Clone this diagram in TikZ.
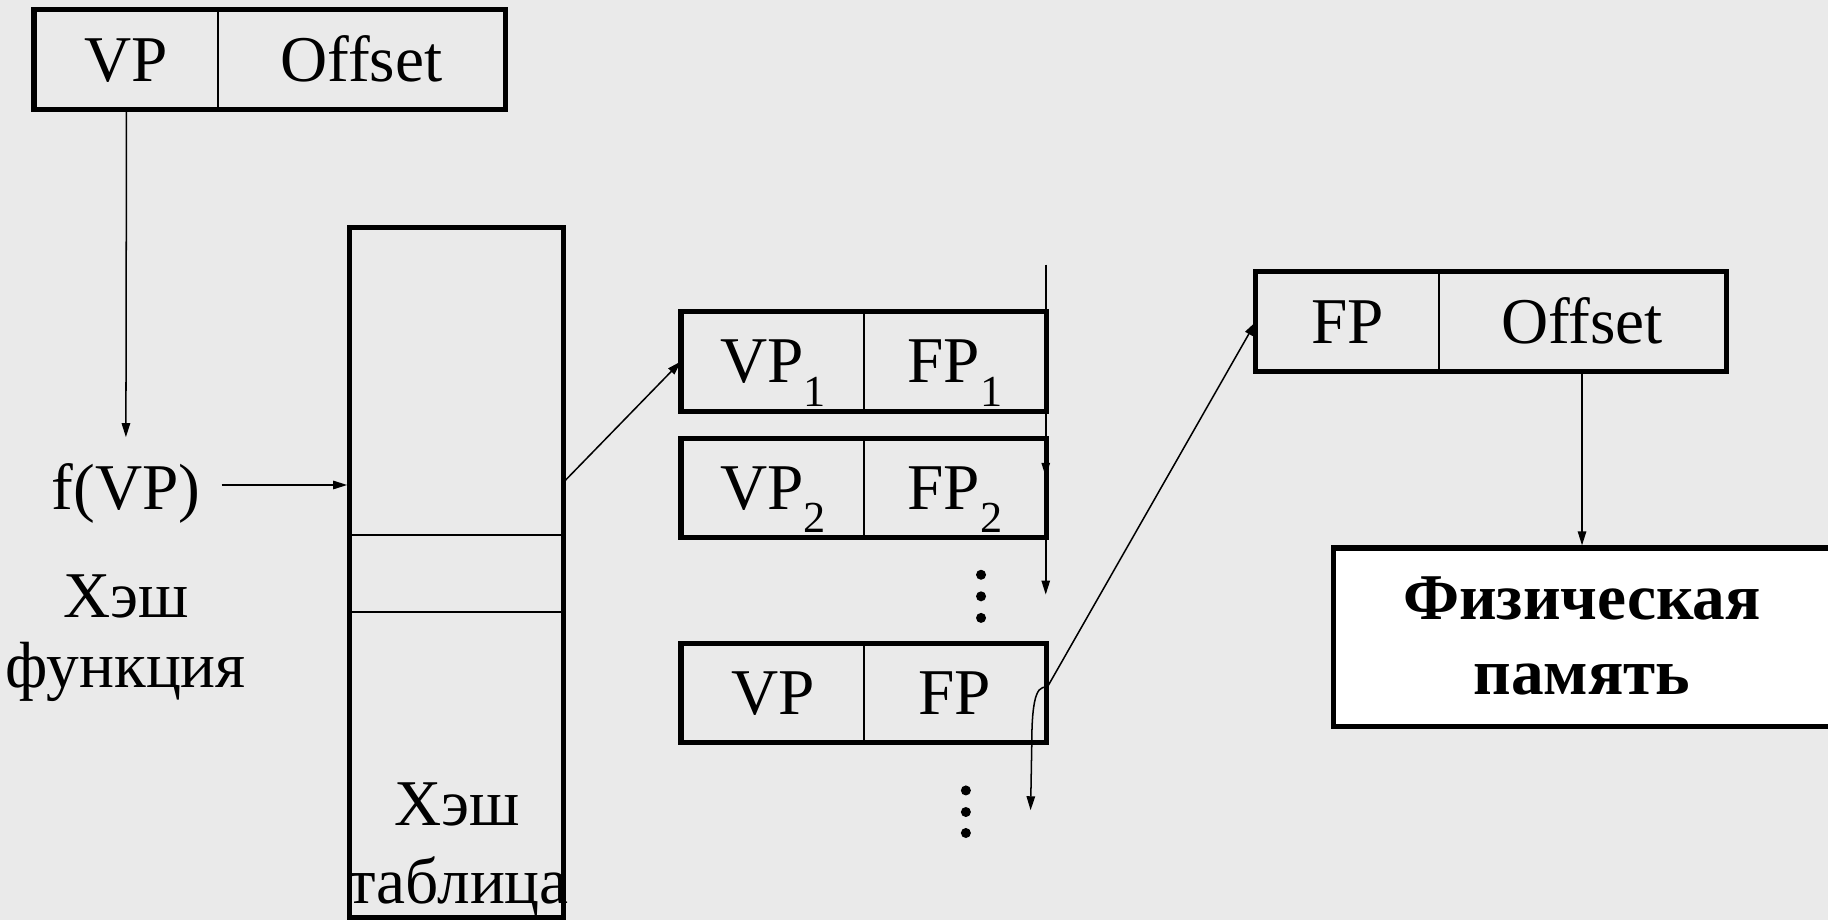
\documentclass[tikz,border=0pt]{standalone}
\usepackage{fontspec}
\setmainfont{LiberationSerif}[Extension=.ttf, UprightFont=*-Regular, BoldFont=*-Bold, ItalicFont=*-Italic, BoldItalicFont=*-BoldItalic]
\usetikzlibrary{arrows.meta}
\definecolor{slidebg}{RGB}{234,234,234}
\newcommand{\lowsub}[1]{\raisebox{-10pt}{\fontsize{19}{19}\selectfont #1}}
\begin{document}
\begin{tikzpicture}[x=0.5pt,y=-0.5pt,
  every node/.style={font=\fontsize{28}{32}\selectfont},
  cell/.style={draw, line width=0.85pt, inner sep=0pt, minimum height=42pt,
    text height=18.5pt, text depth=0pt},
  frame/.style={line width=2.2pt},
  thinline/.style={line width=0.85pt},
  arr/.style={line width=0.65pt, -{Triangle[length=6pt,width=3.6pt]}},
  lbl/.style={anchor=base, inner sep=0pt},
  dot/.style={fill=black},
]
% slide background and page size
\fill[slidebg] (0,0) rectangle (1568,789);
\useasboundingbox (0,0) rectangle (1568,789);

% virtual address: VP | Offset
\node[cell, minimum width=78.5pt] (vpA) at (108.5,51) {VP};
\node[cell, minimum width=123pt] (vpB) at (310,51) {Offset};
\draw[frame] (vpA.north west) rectangle (vpB.south east);

% hash function
\node[lbl] (fvp) at (108,437) {f(VP)};
\node[lbl] (hf1) at (108,530) {Хэш};
\node[lbl] (hf2) at (108,590) {функция};

% hash table
\node[draw, frame, minimum width=91.5pt, minimum height=296pt, inner sep=0pt] (tbl) at (391.5,491) {};
\coordinate (rowA) at (0,459);
\coordinate (rowB) at (0,525);
\draw[thinline] (tbl.west |- rowA) -- (tbl.east |- rowA);
\draw[thinline] (tbl.west |- rowB) -- (tbl.east |- rowB);
\node[lbl] (ht1) at (392,708) {Хэш};
\node[lbl] (ht2) at (393,775) {таблица};

% chain entries
\node[cell, minimum width=78pt, minimum height=42pt] (r1a) at (663,310) {VP\lowsub{1}};
\node[cell, minimum width=78pt, minimum height=42pt] (r1b) at (819,310) {FP\lowsub{1}};
\draw[frame] (r1a.north west) rectangle (r1b.south east);
\node[cell, minimum width=78pt, minimum height=41.5pt] (r2a) at (663,418.5) {VP\lowsub{2}};
\node[cell, minimum width=78pt, minimum height=41.5pt] (r2b) at (819,418.5) {FP\lowsub{2}};
\draw[frame] (r2a.north west) rectangle (r2b.south east);
\node[cell, minimum width=78pt, minimum height=41.5pt] (r3a) at (663,594.5) {VP};
\node[cell, minimum width=78pt, minimum height=41.5pt] (r3b) at (819,594.5) {FP};
\draw[frame] (r3a.north west) rectangle (r3b.south east);

% ellipsis dots
\foreach \yy in {493,511.5,530} \fill[dot] (841.5,\yy) circle (2.15pt);
\foreach \yy in {678,696.5,714.5} \fill[dot] (828.5,\yy) circle (2.15pt);

% physical address: FP | Offset
\node[cell, minimum width=78pt] (fpA) at (1156,276) {FP};
\node[cell, minimum width=123pt] (fpB) at (1357,276) {Offset};
\draw[frame] (fpA.north west) rectangle (fpB.south east);

% physical memory
\node[draw, frame, fill=white, minimum width=218.5pt, minimum height=76.5pt, inner sep=0pt] (pm) at (1362.5,546.5) {};
\node[lbl, font=\fontsize{28}{32}\selectfont\bfseries] (pm1) at (1357,531) {Физическая};
\node[lbl, font=\fontsize{28}{32}\selectfont\bfseries] (pm2) at (1357,596) {память};

% connectors
\draw[arr] (vpA.south) -- (108,375);
\draw[arr] (190,416) -- (tbl.west |- 0,416);
\coordinate (tblout) at (483,414);
\draw[arr] (tblout) -- (r1a.west);
\coordinate (chainTop) at (897,227);
\coordinate (chainMid) at (897,409);
\coordinate (chainEnd) at (897,510);
\draw[arr] (chainTop) -- (chainMid);
\draw[arr] (chainMid) -- (chainEnd);
\coordinate (r3out) at (898,590);
\draw[arr] (r3out) -- (fpA.west);
\coordinate (r3next) at (884,695);
\draw[arr] (r3out) .. controls (887,586) and (885,610) .. (885,640) -- (r3next);
\draw[arr] (fpB.south) -- (fpB.south |- pm.north);
\end{tikzpicture}
\end{document}
